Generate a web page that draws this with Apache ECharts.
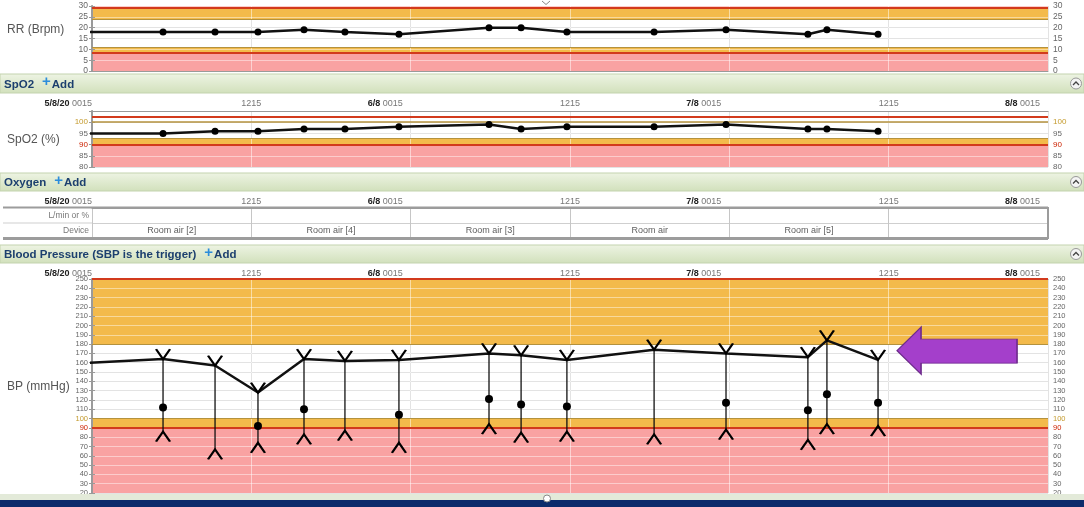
<!DOCTYPE html>
<html>
<head>
<meta charset="utf-8">
<script src="https://cdn.jsdelivr.net/npm/echarts@6/dist/echarts.min.js"></script>
<style>
html,body{margin:0;padding:0;background:#ffffff;}
#chart{width:1084px;height:507px;}
</style>
</head>
<body>
<div id="chart"></div>
<script>
// ---------------- data ----------------
const tickLabels = ['5/8/20 0015', '1215', '6/8 0015', '1215', '7/8 0015', '1215', '8/8 0015'];
const obsTimes = ['5/8 05:36', '5/8 09:31', '5/8 12:45', '5/8 16:13', '5/8 19:18', '5/8 23:22',
                  '6/8 06:09', '6/8 08:34', '6/8 12:01', '6/8 18:35', '7/8 00:00', '7/8 06:10',
                  '7/8 07:36', '7/8 11:27'];
const rrValues   = [18, 18, 18, 19, 18, 17, 20, 20, 18, 18, 19, 17, 19, 17];
const spo2Values = [95, 96, 96, 97, 97, 98, 99, 97, 98, 98, 99, 97, 97, 96];
const sbpValues  = [164, 157, 128, 164, 162, 163, 170, 168, 163, 174, 170, 166, 184, 163];
const dbpValues  = [86, 67, 74, 83, 87, 74, 94, 85, 86, 83, 88, 77, 94, 92];
const dotValues  = [112, null, 92, 110, null, 104, 121, 115, 113, null, 117, 109, 126, 117];
// reading just before the visible window (lines enter from the left edge)
const priorTime = '4/8 20:15';
const priorRR = 18, priorSpO2 = 95, priorSBP = 157;
// oxygen table
const oxygenRows = ['Device', 'L/min or %'];
const oxygenSlots = ['5/8 06:15', '5/8 18:15', '6/8 06:15', '6/8 18:15', '7/8 06:15'];
const oxygenDevices = ['Room air [2]', 'Room air [4]', 'Room air [3]', 'Room air', 'Room air [5]'];
// annotation arrow
const arrowAt = ['7/8 17:24', 173];

// ---------------- helpers ----------------
const FONT = 'Liberation Sans';
const COL = {orange: '#f3ba4b', pink: '#f9a2a2', red: '#d23a1c', ochre: '#b4923e'};
function toH(s) {
  const p = s.split(' ');
  const d = Number(p[0].split('/')[0]);
  const hm = p[1].split(':').map(Number);
  return (d - 5) * 24 + hm[0] + hm[1] / 60 - 0.25;
}
const tH = obsTimes.map(toH);

function xPair(gi, showLabels, margin, overlaySplit) {
  const rich = {
    d: {fontWeight: 'bold', color: '#222', fontSize: 9, fontFamily: FONT},
    t: {color: '#777', fontSize: 9, fontFamily: FONT},
    s: {width: 8, fontSize: 9}
  };
  return [
    {type: 'value', gridIndex: gi, position: 'top', min: 0, max: 72, interval: 12, z: 0,
     axisLine: {show: false}, axisTick: {show: false},
     axisLabel: {show: showLabels, margin: margin, align: 'center', color: '#777', fontSize: 9, fontFamily: FONT,
       formatter: v => { const i = Math.round(v / 12); return i % 2 === 1 ? tickLabels[i] : ''; }},
     splitLine: {show: true, lineStyle: {color: '#c6c6c6', width: 1}}},
    {type: 'value', gridIndex: gi, position: 'top', min: 0, max: 72, interval: 12, z: 3,
     axisLine: {show: true, lineStyle: {color: '#9a9a9a', width: 1}}, axisTick: {show: false},
     axisLabel: {show: showLabels, margin: margin, align: 'right', fontSize: 9, fontFamily: FONT, color: '#777', rich: rich,
       formatter: v => {
         const i = Math.round(v / 12);
         if (i % 2 === 1) return '';
         const p = tickLabels[i].split(' ');
         return '{d|' + p[0] + '} {t|' + p[1] + '}' + (i > 0 ? '{s| }' : '');
       }},
     splitLine: {show: overlaySplit, lineStyle: {color: 'rgba(255,255,255,0.5)', width: 1}}}
  ];
}

function yLabel(colorMap, hidden, size, margin) {
  return {
    margin: margin,
    fontFamily: FONT,
    formatter: v => {
      v = Math.round(v * 100) / 100;
      if (hidden.indexOf(v) >= 0) return '';
      return '{' + (colorMap[v] || 'n') + '|' + v + '}';
    },
    rich: {
      n: {color: '#666', fontSize: size, fontFamily: FONT},
      o: {color: '#c49a2c', fontSize: size, fontFamily: FONT},
      r: {color: '#cc2200', fontSize: size, fontFamily: FONT}
    }
  };
}

function yPair(gi, min, max, interval, colorMap, hidden, size) {
  return [
    {type: 'value', gridIndex: gi, position: 'left', min: min, max: max, interval: interval, z: 0,
     axisLine: {show: true, lineStyle: {color: '#9a9a9a', width: 2}},
     axisTick: {show: true, length: 3, lineStyle: {color: '#9a9a9a'}},
     axisLabel: yLabel(colorMap, hidden, size, 4),
     splitLine: {show: true, lineStyle: {color: '#cdcdcd', width: 1}}},
    {type: 'value', gridIndex: gi, position: 'right', min: min, max: max, interval: interval, z: 3,
     axisLine: {show: true, lineStyle: {color: '#9a9a9a', width: 1}},
     axisTick: {show: true, length: 3, lineStyle: {color: '#9a9a9a'}},
     axisLabel: yLabel(colorMap, hidden, size, 5),
     splitLine: {show: true, lineStyle: {color: 'rgba(255,255,255,0.45)', width: 1}}}
  ];
}

function bands(areas, lines) {
  return {
    markArea: {silent: true, z: 1,
      data: areas.map(a => [{yAxis: a[0], itemStyle: {color: a[2], opacity: 1}}, {yAxis: a[1]}])},
    markLine: {silent: true, z: 5, symbol: ['none', 'none'], label: {show: false},
      data: lines.map(l => ({yAxis: l[0], lineStyle: {color: l[1], width: l[2], type: 'solid'}}))}
  };
}

// ---------------- series data ----------------
const rrLine = [[toH(priorTime), priorRR]].concat(tH.map((t, i) => [t, rrValues[i]]));
const spo2Line = [[toH(priorTime), priorSpO2]].concat(tH.map((t, i) => [t, spo2Values[i]]));
const sbpLine = [[toH(priorTime), priorSBP]].concat(tH.map((t, i) => [t, sbpValues[i]]));
const stems = tH.map((t, i) => [t, sbpValues[i], dbpValues[i]]);
const sbpPts = tH.map((t, i) => [t, sbpValues[i]]);
const dbpPts = tH.map((t, i) => [t, dbpValues[i]]);
const dotPts = tH.map((t, i) => [t, dotValues[i]]).filter(d => d[1] !== null);
const oxyPts = oxygenSlots.map((s, i) => [toH(s), 'Device', oxygenDevices[i]]);

const V_UP = 'path://M0,0L6,9L12,0';
const V_DOWN = 'path://M0,9L6,0L12,9';
const ARROW = 'path://M0,23.5L24,0L24,12L120,12L120,36L24,36L24,47Z';

// ---------------- chart ----------------
const chart = echarts.init(document.getElementById('chart'), null, {renderer: 'canvas'});
const hdrFill = new echarts.graphic.LinearGradient(0, 0, 0, 1,
  [{offset: 0, color: '#eef4e4'}, {offset: 1, color: '#d1e0bb'}]);

function header(y, h, title) {
  const cy = y + h / 2;
  return [
    {type: 'rect', z: 20, shape: {x: 0, y: y, width: 1084, height: h}, style: {fill: hdrFill, stroke: '#c3d3ae', lineWidth: 1}},
    {type: 'text', z: 21, x: 4, y: cy + 1, style: {
      text: '{a|' + title + '}{g| }{p|+}{a|Add}', verticalAlign: 'middle',
      rich: {
        a: {fontSize: 11.5, fontWeight: 'bold', fontFamily: FONT, fill: '#1c3f6e', color: '#1c3f6e'},
        g: {width: 8, fontSize: 11},
        p: {fontSize: 15, fontWeight: 'bold', fontFamily: FONT, fill: '#2c8ddb', color: '#2c8ddb', padding: [0, 1, 5, 0]}
      }}},
    {type: 'circle', z: 21, shape: {cx: 1076, cy: cy, r: 5.5}, style: {fill: '#f4f4f4', stroke: '#999', lineWidth: 1}},
    {type: 'polyline', z: 22, shape: {points: [[1073, cy + 1.5], [1076, cy - 1.5], [1079, cy + 1.5]]}, style: {stroke: '#444', lineWidth: 1.3, fill: null}}
  ];
}

const axisTitle = (x, y, t) => ({type: 'text', z: 21, x: x, y: y,
  style: {text: t, fill: '#555', font: '12px "Liberation Sans"', verticalAlign: 'middle'}});

const graphics = [].concat(
  header(74, 19, 'SpO2'),
  header(173, 18, 'Oxygen'),
  header(245, 18, 'Blood Pressure (SBP is the trigger)'),
  [
    axisTitle(7, 30, 'RR (Brpm)'),
    axisTitle(7, 140, 'SpO2 (%)'),
    axisTitle(7, 387, 'BP (mmHg)'),
    {type: 'line', z: 22, shape: {x1: 3, y1: 207.5, x2: 1048, y2: 207.5}, style: {stroke: '#9c9c9c', lineWidth: 2}},
    {type: 'line', z: 22, shape: {x1: 3, y1: 223, x2: 92, y2: 223}, style: {stroke: '#cfcfcf', lineWidth: 1}},
    {type: 'line', z: 22, shape: {x1: 3, y1: 238.5, x2: 1048, y2: 238.5}, style: {stroke: '#9c9c9c', lineWidth: 3}},
    {type: 'line', z: 22, shape: {x1: 1048, y1: 207, x2: 1048, y2: 239}, style: {stroke: '#9c9c9c', lineWidth: 2}},
    {type: 'polyline', z: 22, shape: {points: [[542, 1], [546, 4.5], [550, 1]]}, style: {stroke: '#888', lineWidth: 1, fill: null}},
    {type: 'rect', z: 20, shape: {x: 0, y: 494, width: 1084, height: 6}, style: {fill: '#e3ead9'}},
    {type: 'rect', z: 20, shape: {x: 0, y: 500, width: 1084, height: 7}, style: {fill: '#0c2b6b'}},
    {type: 'circle', z: 21, shape: {cx: 547, cy: 498.5, r: 3.5}, style: {fill: '#ffffff', stroke: '#888', lineWidth: 1}}
  ]
);

const option = {
  animation: false,
  backgroundColor: '#ffffff',
  textStyle: {fontFamily: FONT},
  grid: [
    {left: 92, right: 36, top: 6, height: 65},
    {left: 92, right: 36, top: 111, height: 56},
    {left: 92, right: 36, top: 208, height: 30},
    {left: 92, right: 36, top: 279, height: 214}
  ],
  xAxis: [].concat(
    xPair(0, false, 3, true),
    xPair(1, true, 3, true),
    xPair(2, true, 2, false),
    xPair(3, true, 1, true)
  ),
  yAxis: [].concat(
    yPair(0, 0, 30, 5, {}, [], 8.5),
    yPair(1, 80, 105, 5, {100: 'o', 90: 'r'}, [105], 8),
    [{type: 'category', gridIndex: 2, data: oxygenRows, z: 0,
      axisLine: {show: false}, axisTick: {show: false},
      axisLabel: {margin: 3, color: '#777', fontSize: 8.5, fontFamily: FONT},
      splitLine: {show: true, interval: 0, lineStyle: {color: '#cfcfcf'}}}],
    yPair(3, 20, 250, 10, {100: 'o', 90: 'r'}, [], 7.5)
  ),
  graphic: graphics,
  series: [
    Object.assign({
      name: 'RR', type: 'line', xAxisIndex: 0, yAxisIndex: 0, data: rrLine, z: 10, clip: true,
      symbol: 'circle', symbolSize: 7, showAllSymbol: true,
      itemStyle: {color: '#000', opacity: 1}, lineStyle: {color: '#111', width: 2.5}
    }, bands(
      [[29, 30, COL.pink], [24, 29, COL.orange], [8.5, 11, COL.orange], [0, 8.5, COL.pink]],
      [[29, COL.red, 2], [24, COL.ochre, 1], [11, COL.ochre, 1], [8.5, COL.red, 2]]
    )),
    Object.assign({
      name: 'SpO2', type: 'line', xAxisIndex: 2, yAxisIndex: 2, data: spo2Line, z: 10, clip: true,
      symbol: 'circle', symbolSize: 7, showAllSymbol: true,
      itemStyle: {color: '#000', opacity: 1}, lineStyle: {color: '#111', width: 2.5}
    }, bands(
      [[90, 93, COL.orange], [80, 90, COL.pink]],
      [[102.3, COL.red, 2], [100, COL.ochre, 1.5], [93, COL.ochre, 1], [90, COL.red, 2]]
    )),
    {
      name: 'Oxygen', type: 'scatter', xAxisIndex: 4, yAxisIndex: 4, data: oxyPts, z: 10,
      symbol: 'circle', symbolSize: 1, itemStyle: {color: 'rgba(0,0,0,0)'},
      label: {show: true, position: 'inside', formatter: p => p.data[2], color: '#333', fontSize: 9, fontFamily: FONT}
    },
    Object.assign({
      name: 'SBP line', type: 'line', xAxisIndex: 6, yAxisIndex: 5, data: sbpLine, z: 10, clip: true,
      symbol: 'none', lineStyle: {color: '#111', width: 2.5}
    }, bands(
      [[180, 250, COL.orange], [90, 100, COL.orange], [20, 90, COL.pink]],
      [[250, COL.red, 2], [180, COL.ochre, 1], [100, COL.ochre, 1], [90, COL.red, 2]]
    )),
    {
      name: 'BP range', type: 'custom', xAxisIndex: 6, yAxisIndex: 5, data: stems, z: 9,
      encode: {x: 0, y: [1, 2]},
      renderItem: (params, api) => {
        const a = api.coord([api.value(0), api.value(1)]);
        const b = api.coord([api.value(0), api.value(2)]);
        return {type: 'line', shape: {x1: a[0], y1: a[1], x2: b[0], y2: b[1]}, style: {stroke: '#111', lineWidth: 1.3}};
      }
    },
    {
      name: 'SBP', type: 'scatter', xAxisIndex: 6, yAxisIndex: 5, data: sbpPts, z: 11,
      symbol: V_UP, symbolSize: [14, 10], symbolOffset: [0, -5],
      itemStyle: {color: 'rgba(0,0,0,0)', borderColor: '#000', borderWidth: 2, opacity: 1},
      markPoint: {silent: true, z: 12, label: {show: false},
        data: [{coord: [toH(arrowAt[0]), arrowAt[1]], symbol: ARROW, symbolSize: [120, 47],
          itemStyle: {color: '#a43fcb', borderColor: '#6d2b8b', borderWidth: 1, opacity: 1}}]}
    },
    {
      name: 'DBP', type: 'scatter', xAxisIndex: 6, yAxisIndex: 5, data: dbpPts, z: 11,
      symbol: V_DOWN, symbolSize: [14, 10], symbolOffset: [0, 5],
      itemStyle: {color: 'rgba(0,0,0,0)', borderColor: '#000', borderWidth: 2, opacity: 1}
    },
    {
      name: 'Dot', type: 'scatter', xAxisIndex: 6, yAxisIndex: 5, data: dotPts, z: 11,
      symbol: 'circle', symbolSize: 8, itemStyle: {color: '#000', opacity: 1}
    }
  ]
};
chart.setOption(option);
</script>
</body>
</html>
